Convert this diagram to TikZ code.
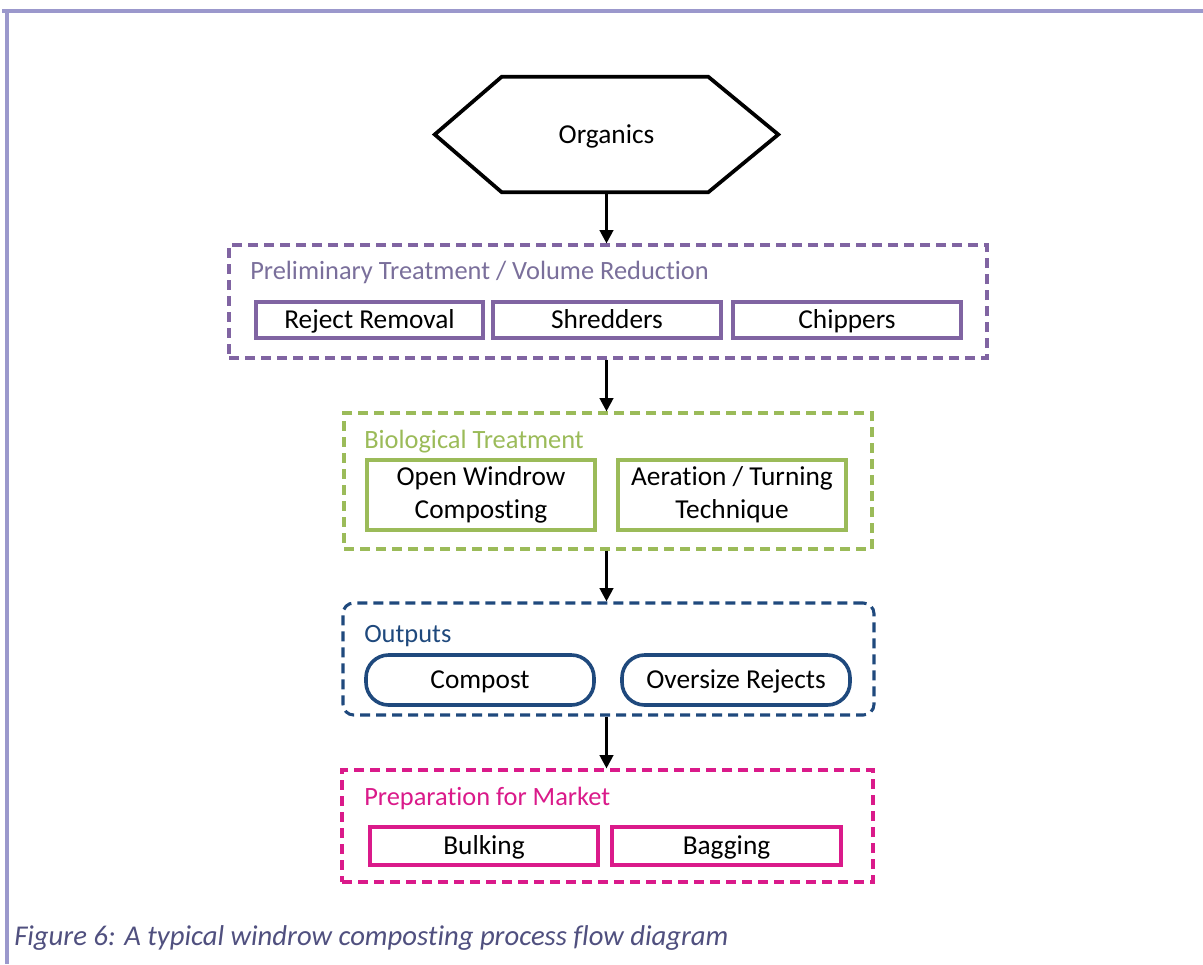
\documentclass[tikz,border=0pt]{standalone}
\usepackage{fontspec}
\setmainfont{Carlito}[Ligatures=CommonOff]
\usetikzlibrary{arrows.meta,calc,fit}
\definecolor{frame}{HTML}{9B98CC}
\definecolor{cpur}{HTML}{8064A2}
\definecolor{cpurt}{HTML}{7A6F9B}
\definecolor{cgrn}{HTML}{9BBB59}
\definecolor{cblu}{HTML}{1F497D}
\definecolor{cmag}{HTML}{DA1A8A}
\definecolor{capc}{HTML}{50507F}
\tikzset{
  grp/.style={draw=#1, line width=2.3pt, dash pattern=on 7.5pt off 4.5pt, inner sep=0pt},
  box/.style={draw=#1, line width=2.7pt, inner sep=0pt},
  btxt/.style={align=center, inner sep=0pt, font=\fontsize{20.5}{25}\selectfont, text=black},
  stxt/.style={btxt, text height=14pt, text depth=1pt},
  ttl/.style={anchor=west, inner sep=0pt, text=#1, font=\fontsize{19.8}{24}\selectfont, text height=13pt, text depth=2pt},
  arr/.style={line width=2.2pt, -{Triangle[length=10pt,width=10pt]}}
}
\begin{document}
\begin{tikzpicture}[x=0.75pt,y=-0.75pt]
\useasboundingbox (0,0) rectangle (1203,964);
\fill[white] (0,0) rectangle (1203,964);
% frame
\draw[frame, line width=2.6pt] (2,11) -- (1203,11);
\draw[frame, line width=2.6pt] (7,11) -- (7,964);
% organics hexagon
\node[minimum width=257.25pt, minimum height=86.25pt, stxt] (org) at (606.5,134.5) {Organics};
\draw[line width=2.8pt, line join=miter] (org.west) -- ($(org.north west)+(67,0)$) -- ($(org.north east)+(-70,0)$) -- (org.east) -- ($(org.south east)+(-70,0)$) -- ($(org.south west)+(67,0)$) -- cycle;
% group 1
\node[grp=cpur, fit={(229,245) (987,358)}] (g1) {};
\node[ttl=cpurt] (t1) at (250,272) {Preliminary Treatment / Volume Reduction};
\node[box=cpur, fit={(256,302) (483,338)}] (b11) {};
\node[stxt] at (b11.center) {Reject Removal};
\node[box=cpur, fit={(493,302) (721,338)}] (b12) {};
\node[stxt] at (b12.center) {Shredders};
\node[box=cpur, fit={(733,302) (961,338)}] (b13) {};
\node[stxt] at (b13.center) {Chippers};
% group 2
\node[grp=cgrn, fit={(344,413) (872,549)}] (g2) {};
\node[ttl=cgrn] (t2) at (364,441) {Biological Treatment};
\node[box=cgrn, fit={(367,460) (595,530)}] (b21) {};
\node[btxt] at (b21.center) {Open Windrow\\Composting};
\node[box=cgrn, fit={(618,460) (846,530)}] (b22) {};
\node[btxt] at (b22.center) {Aeration / Turning\\Technique};
% group 3
\node[grp=cblu, rounded corners=8pt, fit={(343,603) (874,715)}] (g3) {};
\node[ttl=cblu] (t3) at (364,635) {Outputs};
\node[box=cblu, rounded corners=17pt, fit={(366,655) (594,705)}] (b31) {};
\node[stxt] at (b31.center) {Compost};
\node[box=cblu, rounded corners=17pt, fit={(622,655) (850,705)}] (b32) {};
\node[stxt] at (b32.center) {Oversize Rejects};
% group 4
\node[grp=cmag, fit={(342,770) (873,882)}] (g4) {};
\node[ttl=cmag] (t4) at (364,798) {Preparation for Market};
\node[box=cmag, fit={(370,827) (598,865)}] (b41) {};
\node[stxt] at (b41.center) {Bulking};
\node[box=cmag, fit={(612,827) (841,865)}] (b42) {};
\node[stxt] at (b42.center) {Bagging};
% arrows
\draw[arr] (org.south) -- (org.south |- g1.north);
\draw[arr] (org.south |- g1.south) -- (org.south |- g2.north);
\draw[arr] (org.south |- g2.south) -- (org.south |- g3.north);
\draw[arr] (org.south |- g3.south) -- (org.south |- g4.north);
% caption
\node[anchor=west, inner sep=0pt, text=capc, font=\fontsize{21.5}{26}\selectfont\itshape] (cap) at (14,938) {Figure 6: A typical windrow composting process flow diagram};
\end{tikzpicture}
\end{document}
